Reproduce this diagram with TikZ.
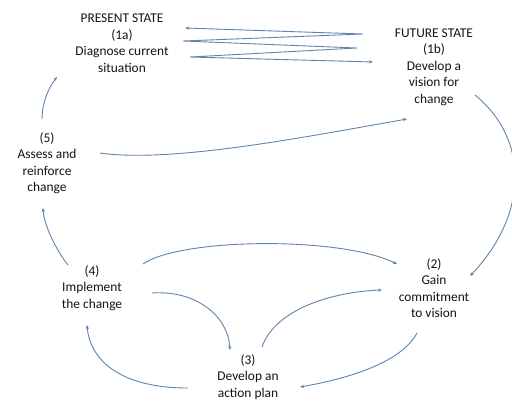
\documentclass[tikz,border=0pt]{standalone}
\usepackage{fontspec}
\setmainfont{Carlito}
\usetikzlibrary{arrows.meta}
\definecolor{flow}{RGB}{96,131,176}
\definecolor{ink}{RGB}{20,20,20}
\tikzset{
  stage/.style={align=center, text=ink, inner sep=1pt,
    font=\fontsize{13.4}{16.5}\selectfont},
  link/.style={draw=flow, line width=0.9pt,
    -{Stealth[length=4pt,width=3.2pt]}},
  twoway/.style={draw=flow, line width=0.9pt,
    {Stealth[length=4pt,width=3.2pt]}-{Stealth[length=4pt,width=3.2pt]}}
}
\begin{document}
\begin{tikzpicture}[x=1pt,y=-1pt]
\useasboundingbox[fill=white] (0,0) rectangle (512,400);

% stages of the change cycle
\node[stage] (n1a) at (122,43) {PRESENT STATE\\(1a)\\Diagnose current\\situation};
\node[stage] (n1b) at (434,67) {FUTURE STATE\\(1b)\\Develop a\\vision for\\change};
\node[stage] (n5)  at (47,163) {(5)\\Assess and\\reinforce\\change};
\node[stage] (n4)  at (92,288) {(4)\\Implement\\the change};
\node[stage] (n2)  at (434,288) {(2)\\Gain\\commitment\\to vision};
\node[stage] (n3)  at (248,377) {(3)\\Develop an\\action plan};

% back-and-forth zigzag between present and future state
\coordinate (z1) at (185,28);
\coordinate (z2) at (363,34);
\coordinate (z3) at (183,41);
\coordinate (z4) at (357,48);
\coordinate (z5) at (190,57);
\coordinate (z6) at (373,62);
\draw[twoway] (z1) -- (z2) -- (z3) -- (z4) -- (z5) -- (z6);

% end points of the curved connectors
\coordinate (a1b) at (475,95);   \coordinate (b2r) at (470,276);
\coordinate (a5u) at (42,119);   \coordinate (b1a) at (57,77);
\coordinate (a5r) at (100,153);  \coordinate (b1b) at (407,119);
\coordinate (a4u) at (68,265);   \coordinate (b5d) at (43,208);
\coordinate (a4r) at (143,264);  \coordinate (b2l) at (397,264);
\coordinate (a4d) at (152,293);  \coordinate (b3u) at (230,350);
\coordinate (a3l) at (188,388);  \coordinate (b4d) at (87,325);
\coordinate (a3u) at (262,347);  \coordinate (b2w) at (382,290);
\coordinate (a2d) at (417,333);  \coordinate (b3r) at (300,387);

\draw[link] (a1b) .. controls (530,140) and (528,215) .. (b2r);
\draw[link] (a5u) .. controls (42,105) and (47,90) .. (b1a);
\draw[link] (a5r) .. controls (170,163) and (300,138) .. (b1b);
\draw[link] (a4u) .. controls (56,250) and (44,225) .. (b5d);
\draw[link] (a4r) .. controls (180,238) and (340,236) .. (b2l);
\draw[link] (a4d) .. controls (195,290) and (228,315) .. (b3u);
\draw[link] (a3l) .. controls (120,388) and (90,360) .. (b4d);
\draw[link] (a3u) .. controls (275,310) and (330,292) .. (b2w);
\draw[link] (a2d) .. controls (400,365) and (340,380) .. (b3r);
\end{tikzpicture}
\end{document}
